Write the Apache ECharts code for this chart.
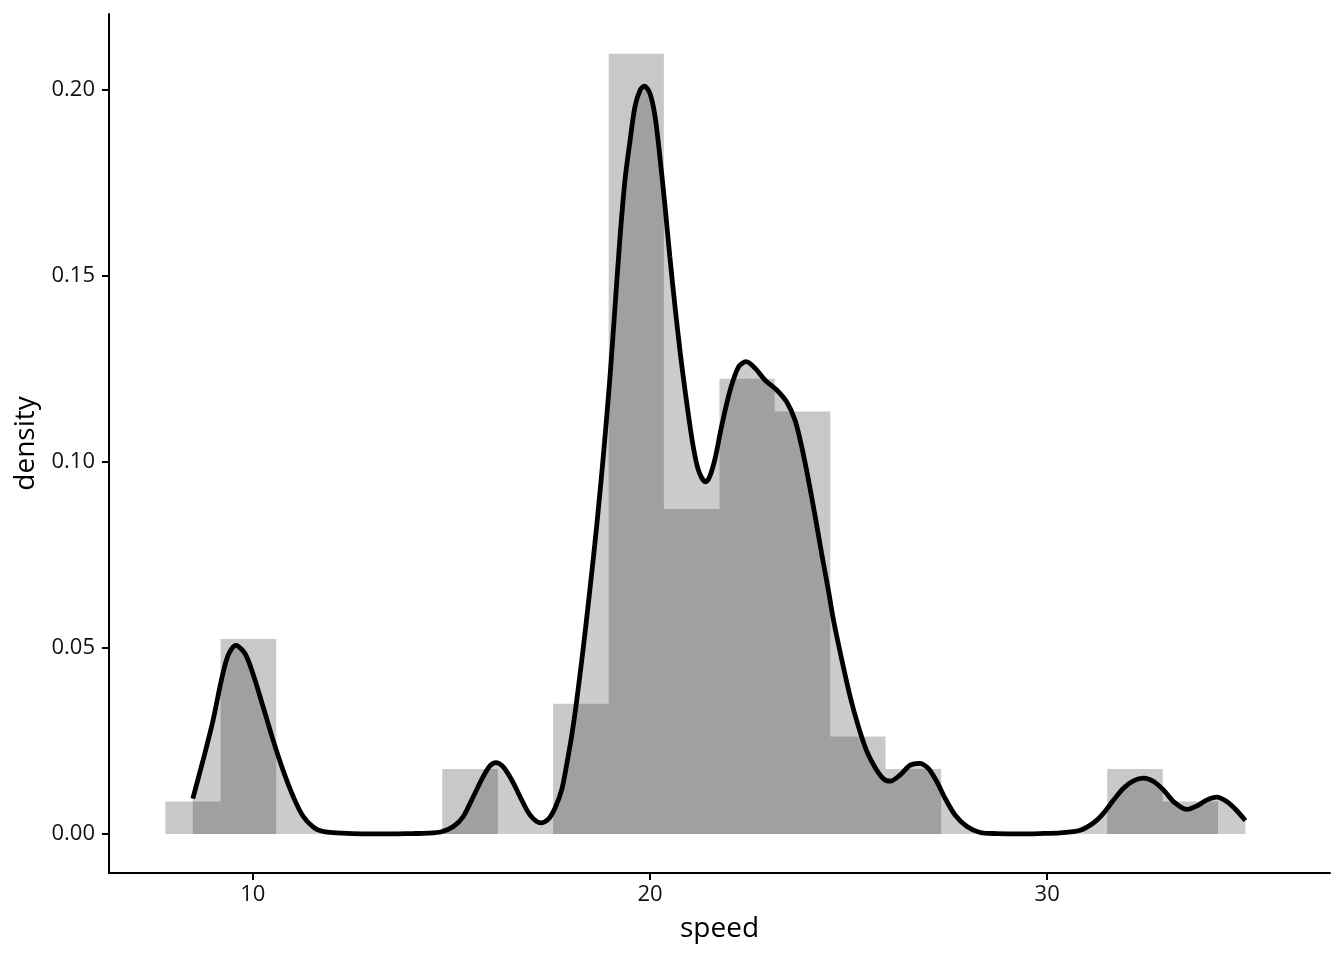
<!DOCTYPE html>
<html>
<head>
<meta charset="utf-8">
<script src="https://cdn.jsdelivr.net/npm/echarts@6/dist/echarts.min.js"></script>
<style>html,body{margin:0;padding:0;background:#fff;}#c{width:1344px;height:960px;}</style>
</head>
<body>
<div id="c"></div>
<script>
// Histogram bin edges (speed) and bar heights (density)
var binEdges = [7.80, 9.19, 10.59, 11.98, 13.38, 14.77, 16.17, 17.56, 18.96, 20.35, 21.75, 23.14, 24.54, 25.93, 27.33, 28.72, 30.12, 31.51, 32.91, 34.30];
var binDensity = [0.0087, 0.0524, 0, 0, 0, 0.0175, 0, 0.0350, 0.2098, 0.0874, 0.1224, 0.1136, 0.0262, 0.0175, 0, 0, 0, 0.0175, 0.0087];

// Density curve
var densX = [8.49, 8.75, 9.00, 9.21, 9.38, 9.57, 9.80, 10.00, 10.26, 10.51, 10.76, 11.02, 11.27, 11.60, 11.94, 12.5, 13.0, 13.5, 14.0, 14.4, 14.75, 15.05, 15.30, 15.55, 15.80, 15.97, 16.12, 16.30, 16.52, 16.73, 16.98, 17.25, 17.44, 17.61, 17.78, 17.90, 18.03, 18.15, 18.32, 18.49, 18.66, 18.82, 18.99, 19.12, 19.24, 19.37, 19.50, 19.62, 19.75, 19.86, 20.00, 20.13, 20.25, 20.38, 20.50, 20.63, 20.76, 20.88, 21.01, 21.10, 21.20, 21.30, 21.40, 21.50, 21.64, 21.80, 22.02, 22.23, 22.42, 22.65, 22.90, 23.19, 23.44, 23.65, 23.82, 23.99, 24.16, 24.32, 24.49, 24.62, 24.83, 25.04, 25.25, 25.46, 25.67, 25.88, 26.05, 26.30, 26.55, 26.78, 27.00, 27.22, 27.43, 27.68, 27.98, 28.31, 28.73, 29.3, 29.8, 30.33, 30.83, 31.17, 31.42, 31.67, 31.92, 32.17, 32.43, 32.68, 32.93, 33.18, 33.51, 33.76, 34.01, 34.27, 34.52, 34.77, 34.99];
var densY = [0.0095, 0.0199, 0.0306, 0.0414, 0.0481, 0.0507, 0.0486, 0.0432, 0.0342, 0.0253, 0.0172, 0.0100, 0.0047, 0.0013, 0.0004, 0.0001, 0.0000, 0.0000, 0.0001, 0.0002, 0.0006, 0.0020, 0.0047, 0.0100, 0.0154, 0.0183, 0.0192, 0.0181, 0.0145, 0.0100, 0.0051, 0.0030, 0.0040, 0.0070, 0.0120, 0.0185, 0.0265, 0.0355, 0.0500, 0.0660, 0.0830, 0.1010, 0.1225, 0.1418, 0.1597, 0.1758, 0.1866, 0.1955, 0.2000, 0.2011, 0.1991, 0.1928, 0.1820, 0.1686, 0.1552, 0.1418, 0.1295, 0.1195, 0.1095, 0.1035, 0.0985, 0.0958, 0.0947, 0.0960, 0.1010, 0.1095, 0.1194, 0.1256, 0.1270, 0.1252, 0.1220, 0.1194, 0.1162, 0.1113, 0.1041, 0.0952, 0.0853, 0.0755, 0.0656, 0.0575, 0.0468, 0.0369, 0.0288, 0.0222, 0.0178, 0.0148, 0.0142, 0.0159, 0.0185, 0.0190, 0.0177, 0.0141, 0.0096, 0.0051, 0.0020, 0.0004, 0.0001, 0.0000, 0.0001, 0.0003, 0.0010, 0.0030, 0.0056, 0.0091, 0.0123, 0.0143, 0.0150, 0.0141, 0.0118, 0.0087, 0.0066, 0.0075, 0.0091, 0.0099, 0.0087, 0.0063, 0.0036];

var xTicks = [10, 20, 30];
var yTicks = [0, 0.05, 0.10, 0.15, 0.20];

var histData = [];
for (var i = 0; i < binDensity.length; i++) {
  histData.push([binEdges[i], binEdges[i + 1], binDensity[i]]);
}
var densData = densX.map(function (x, i) { return [x, densY[i]]; });

var chart = echarts.init(document.getElementById('c'), null, {renderer: 'canvas'});
var font = '"Open Sans", "Noto Sans", sans-serif';
chart.setOption({
  animation: false,
  backgroundColor: '#ffffff',
  grid: {left: 109, right: 14, top: 14, bottom: 87, containLabel: false},
  xAxis: {
    type: 'value', min: 6.38, max: 37.12,
    name: 'speed', nameLocation: 'middle', nameGap: 42,
    nameTextStyle: {fontFamily: font, fontSize: 28, color: '#000'},
    axisLine: {show: true, onZero: false, lineStyle: {color: '#000', width: 2}},
    axisTick: {show: true, length: 7, lineStyle: {color: '#000', width: 2}, customValues: xTicks},
    axisLabel: {fontFamily: font, fontSize: 22, color: '#111', margin: 11, customValues: xTicks,
      formatter: function (v) { return String(v); }},
    splitLine: {show: false}
  },
  yAxis: {
    type: 'value', min: -0.0105, max: 0.2205,
    name: 'density', nameLocation: 'middle', nameGap: 69,
    nameTextStyle: {fontFamily: font, fontSize: 28, color: '#000'},
    axisLine: {show: true, onZero: false, lineStyle: {color: '#000', width: 2}},
    axisTick: {show: true, length: 7, lineStyle: {color: '#000', width: 2}, customValues: yTicks},
    axisLabel: {fontFamily: font, fontSize: 22, color: '#111', margin: 14, customValues: yTicks,
      formatter: function (v) { return v.toFixed(2); }},
    splitLine: {show: false}
  },
  series: [
    {
      type: 'custom',
      z: 1,
      data: histData,
      encode: {x: [0, 1], y: 2},
      renderItem: function (params, api) {
        var h = api.value(2);
        if (h <= 0) return null;
        var p0 = api.coord([api.value(0), 0]);
        var p1 = api.coord([api.value(1), h]);
        return {
          type: 'rect',
          shape: {x: p0[0], y: p1[1], width: p1[0] - p0[0], height: p0[1] - p1[1]},
          style: {fill: 'rgba(0,0,0,0.216)'}
        };
      }
    },
    {
      type: 'line',
      z: 2,
      data: densData,
      showSymbol: false,
      smooth: 0.3,
      lineStyle: {color: '#000', width: 4.8},
      areaStyle: {color: 'rgba(0,0,0,0.2)', opacity: 1, origin: 0}
    }
  ]
});
</script>
</body>
</html>
